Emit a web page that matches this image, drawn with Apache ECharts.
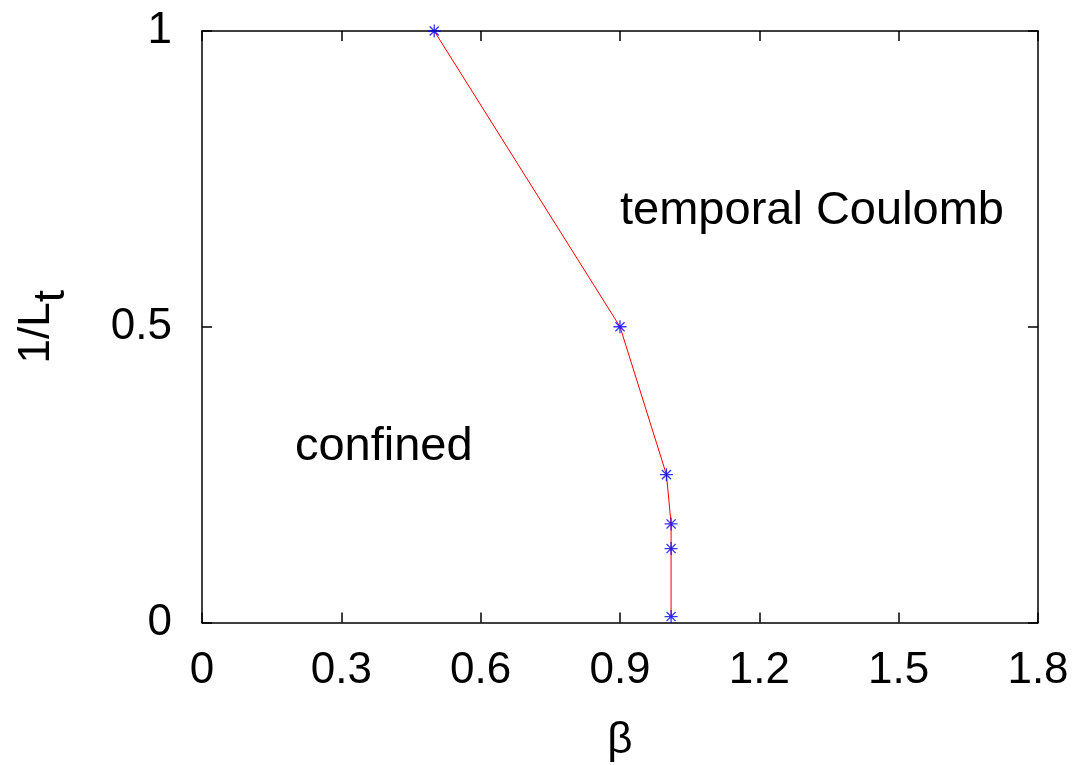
<!DOCTYPE html>
<html>
<head>
<meta charset="utf-8">
<script src="https://cdn.jsdelivr.net/npm/echarts@6/dist/echarts.min.js"></script>
<style>
html,body{margin:0;padding:0;background:#fff;}
#chart{width:1076px;height:765px;}
</style>
</head>
<body>
<div id="chart"></div>
<script>
// Data
const betaValues = [0.5, 0.9, 1.0, 1.01, 1.01, 1.01];
const invLtValues = [1.0, 0.5, 0.25, 0.1667, 0.125, 0.01];
const xTicks = [0, 0.3, 0.6, 0.9, 1.2, 1.5, 1.8];
const yTicks = [0, 0.5, 1];
const regionLabels = [
  { name: 'temporal Coulomb', x: 0.9, y: 0.695 },
  { name: 'confined', x: 0.2, y: 0.297 }
];

const points = betaValues.map((b, i) => [b, invLtValues[i]]);
const font = '"Liberation Sans", Arial, Helvetica, sans-serif';
const star = 'path://M0,-10L0,10M-10,0L10,0M-7,-7L7,7M-7,7L7,-7';

const chart = echarts.init(document.getElementById('chart'), null, {renderer: 'canvas'});
const axisLine = {show: true, onZero: false, lineStyle: {color: '#000', width: 1.5}};
const tick = {show: true, inside: true, length: 10, lineStyle: {color: '#000', width: 1.5}};
chart.setOption({
  animation: false,
  backgroundColor: '#fff',
  grid: {left: 202, right: 38, top: 31, bottom: 142.5, show: false, containLabel: false, outerBoundsMode: 'none'},
  xAxis: [{
    type: 'value', min: 0, max: 1.8, interval: 0.3, position: 'bottom',
    axisLine: axisLine, axisTick: tick,
    axisLabel: {fontFamily: font, fontSize: 44, color: '#000', margin: 26,
      formatter: v => { const t = xTicks.find(x => Math.abs(x - v) < 1e-9); return t === undefined ? '' : String(t); }},
    splitLine: {show: false},
    name: 'β', nameLocation: 'middle', nameGap: 96,
    nameTextStyle: {fontFamily: font, fontSize: 44, color: '#000'}
  }, {
    type: 'value', min: 0, max: 1.8, interval: 0.3, position: 'top',
    axisLine: axisLine, axisTick: tick,
    axisLabel: {show: false}, splitLine: {show: false}
  }],
  yAxis: [{
    type: 'value', min: 0, max: 1, interval: 0.5, position: 'left',
    axisLine: axisLine, axisTick: tick,
    axisLabel: {fontFamily: font, fontSize: 44, color: '#000', margin: 30,
      formatter: v => { const t = yTicks.find(y => Math.abs(y - v) < 1e-9); return t === undefined ? '' : String(t); }},
    splitLine: {show: false},
    name: '1/L{sub|t}', nameLocation: 'middle', nameGap: 128, nameRotate: 90,
    nameTextStyle: {fontFamily: font, fontSize: 44, color: '#000',
      rich: {sub: {fontFamily: font, fontSize: 44, color: '#000', verticalAlign: 'bottom', padding: [30, 0, 0, 0]}}}
  }, {
    type: 'value', min: 0, max: 1, interval: 0.5, position: 'right',
    axisLine: axisLine, axisTick: tick,
    axisLabel: {show: false}, splitLine: {show: false}
  }],
  series: [{
    type: 'line',
    data: points,
    clip: false,
    symbol: 'none',
    lineStyle: {color: '#ff0000', width: 1},
    z: 3
  }, {
    type: 'scatter',
    data: points,
    clip: false,
    symbol: star,
    symbolSize: 13,
    itemStyle: {color: 'none', borderColor: '#0000ff', borderWidth: 1.3},
    z: 4
  }]
});

// Region labels placed through the chart's own coordinate conversion
chart.setOption({
  graphic: regionLabels.map(r => {
    const p = chart.convertToPixel({xAxisIndex: 0, yAxisIndex: 0}, [r.x, r.y]);
    return {
      type: 'text', x: p[0], y: p[1], z: 10,
      style: {text: r.name, fill: '#000', font: '47px ' + font, textAlign: 'left', textVerticalAlign: 'middle'}
    };
  })
});
</script>
</body>
</html>
